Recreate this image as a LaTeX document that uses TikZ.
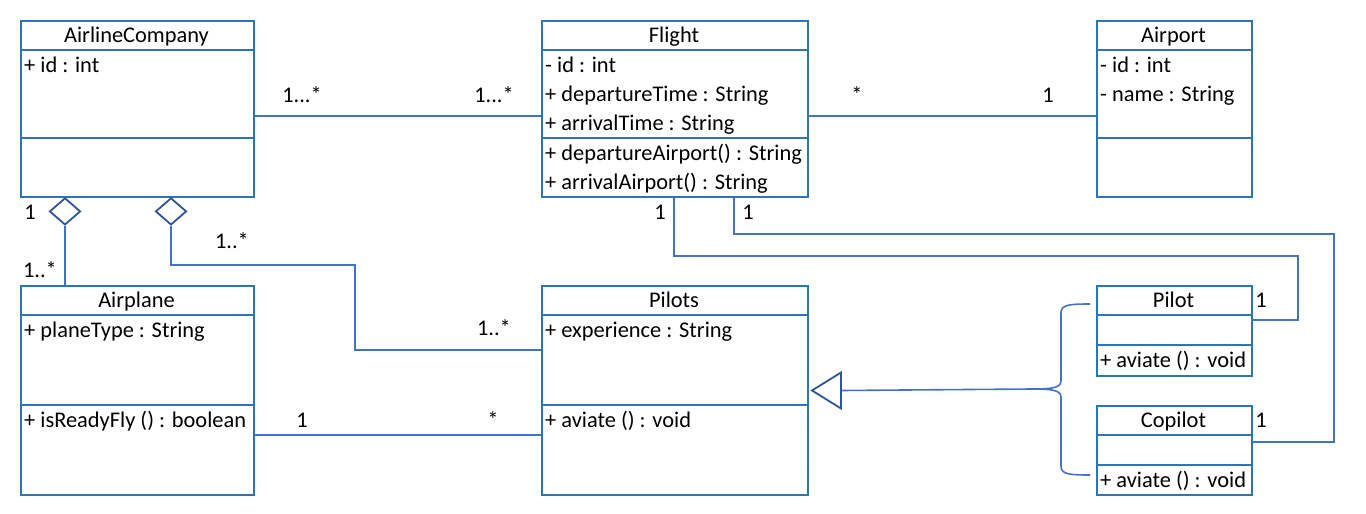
\documentclass[tikz,border=0pt]{standalone}
\usepackage{fontspec}
\setmainfont{Carlito}
\usetikzlibrary{calc,shapes.geometric}
\definecolor{boxblue}{HTML}{2E75B6}
\definecolor{lineblue}{HTML}{4472C4}
\definecolor{darkblue}{HTML}{2F5597}
\begin{document}
\begin{tikzpicture}[x=1pt,y=-1pt,
  cls/.style={draw=boxblue,line width=2pt,inner sep=0pt,anchor=north west},
  sep/.style={draw=boxblue,line width=2pt},
  row/.style={anchor=base west,inner sep=0pt,font=\fontsize{22.4}{26}\selectfont},
  ttl/.style={anchor=base,inner sep=0pt,font=\fontsize{22.4}{26}\selectfont},
  mult/.style={anchor=base,inner sep=0pt,font=\fontsize{22.4}{26}\selectfont},
  con/.style={draw=lineblue,line width=1.6pt},
  head/.style={draw=darkblue,line width=1.8pt,fill=white}]
\useasboundingbox (0,0) rectangle (1366,514);

% ---------- class boxes ----------
\node[cls,minimum width=233,minimum height=176] (ac) at (20,20) {};
\node[cls,minimum width=266,minimum height=176] (fl) at (541,20) {};
\node[cls,minimum width=155,minimum height=176] (ap) at (1096,20) {};
\node[cls,minimum width=233,minimum height=209] (aw) at (20,285) {};
\node[cls,minimum width=266,minimum height=209] (pl) at (541,285) {};
\node[cls,minimum width=155,minimum height=90] (pi) at (1096,285) {};
\node[cls,minimum width=155,minimum height=89] (cp) at (1096,405) {};

% separators
\draw[sep] (20,50) -- (253,50);   \draw[sep] (20,138) -- (253,138);
\draw[sep] (541,50) -- (807,50);  \draw[sep] (541,138) -- (807,138);
\draw[sep] (1096,50) -- (1251,50); \draw[sep] (1096,138) -- (1251,138);
\draw[sep] (20,315) -- (253,315); \draw[sep] (20,405) -- (253,405);
\draw[sep] (541,315) -- (807,315); \draw[sep] (541,405) -- (807,405);
\draw[sep] (1096,315) -- (1251,315); \draw[sep] (1096,345) -- (1251,345);
\draw[sep] (1096,435) -- (1251,435); \draw[sep] (1096,465) -- (1251,465);

% ---------- texts ----------
\node[ttl] (acT) at (136.5,42) {AirlineCompany};
\node[row] (acA1) at (24,72) {+ id : int};

\node[ttl] (flT) at (674,42) {Flight};
\node[row] (flA1) at (545,72) {- id : int};
\node[row] (flA2) at (545,101) {+ departureTime : String};
\node[row] (flA3) at (545,130) {+ arrivalTime : String};
\node[row] (flM1) at (545,160) {+ departureAirport() : String};
\node[row] (flM2) at (545,189) {+ arrivalAirport() : String};

\node[ttl] (apT) at (1173.5,42) {Airport};
\node[row] (apA1) at (1100,72) {- id : int};
\node[row] (apA2) at (1100,101) {- name : String};

\node[ttl] (awT) at (136.5,307) {Airplane};
\node[row] (awA1) at (24,337) {+ planeType : String};
\node[row] (awM1) at (24,427) {+ isReadyFly () : boolean};

\node[ttl] (plT) at (674,307) {Pilots};
\node[row] (plA1) at (545,337) {+ experience : String};
\node[row] (plM1) at (545,427) {+ aviate () : void};

\node[ttl] (piT) at (1173.5,307) {Pilot};
\node[row] (piM1) at (1100,367) {+ aviate () : void};

\node[ttl] (cpT) at (1173.5,427) {Copilot};
\node[row] (cpM1) at (1100,487) {+ aviate () : void};

% ---------- connectors ----------
% AirlineCompany -- Flight
\draw[con] ($(ac.north east)+(0,96)$) -- ($(fl.north west)+(0,96)$);
\node[mult] (m1) at (302,102) {1...*};
\node[mult] (m2) at (494,102) {1...*};

% Flight -- Airport
\draw[con] ($(fl.north east)+(0,96)$) -- ($(ap.north west)+(0,96)$);
\node[mult] (m3) at (857,102) {*};
\node[mult] (m4) at (1048,102) {1};

% aggregation AirlineCompany -- Airplane
\node[diamond,head,minimum width=31,minimum height=27,inner sep=0pt,anchor=north] (d1) at (65,197) {};
\draw[con] (d1.south) -- (d1.south |- aw.north);
\node[mult] (m5) at (30,219) {1};
\node[mult] (m6) at (40,277) {1..*};

% aggregation AirlineCompany -- Pilots
\node[diamond,head,minimum width=31,minimum height=27,inner sep=0pt,anchor=north] (d2) at (171,197) {};
\draw[con] (d2.south) |- (355,265) -- (355,350) -- ($(pl.north west)+(0,65)$);
\node[mult] (m7) at (232,248) {1..*};
\node[mult] (m8) at (494,335) {1..*};

% Airplane -- Pilots
\draw[con] ($(aw.north east)+(0,150)$) -- ($(pl.north west)+(0,150)$);
\node[mult] (m9) at (302,427) {1};
\node[mult] (m10) at (493,427) {*};

% Flight -- Pilot
\draw[con] ($(fl.south west)+(133,0)$) |- (1298,256) |- ($(pi.north east)+(0,35)$);
\node[mult] (m11) at (660,219) {1};
\node[mult] (m12) at (1261,307) {1};

% Flight -- Copilot
\draw[con] ($(fl.south west)+(193,0)$) |- (1334,234) |- ($(cp.north east)+(0,37)$);
\node[mult] (m13) at (748,219) {1};
\node[mult] (m14) at (1261,427) {1};

% generalization Pilot/Copilot -> Pilots (brace)
\coordinate (bt) at (1032,389);
\coordinate (tb) at ($(pl.east)+(32,0)$);
\draw[con] (1090,304) .. controls (1068,304) and (1061,305) .. (1061,313)
  -- (1061,380) .. controls (1061,387) and (1056,389) .. (bt)
  .. controls (1056,389) and (1061,391) .. (1061,398)
  -- (1061,466) .. controls (1061,474) and (1068,475) .. (1090,475);
\draw[con] (bt) -- (tb);
\draw[head] ($(pl.east)+(3,0)$) -- ($(pl.east)+(32,-18)$) -- ($(pl.east)+(32,18)$) -- cycle;
\end{tikzpicture}
\end{document}
